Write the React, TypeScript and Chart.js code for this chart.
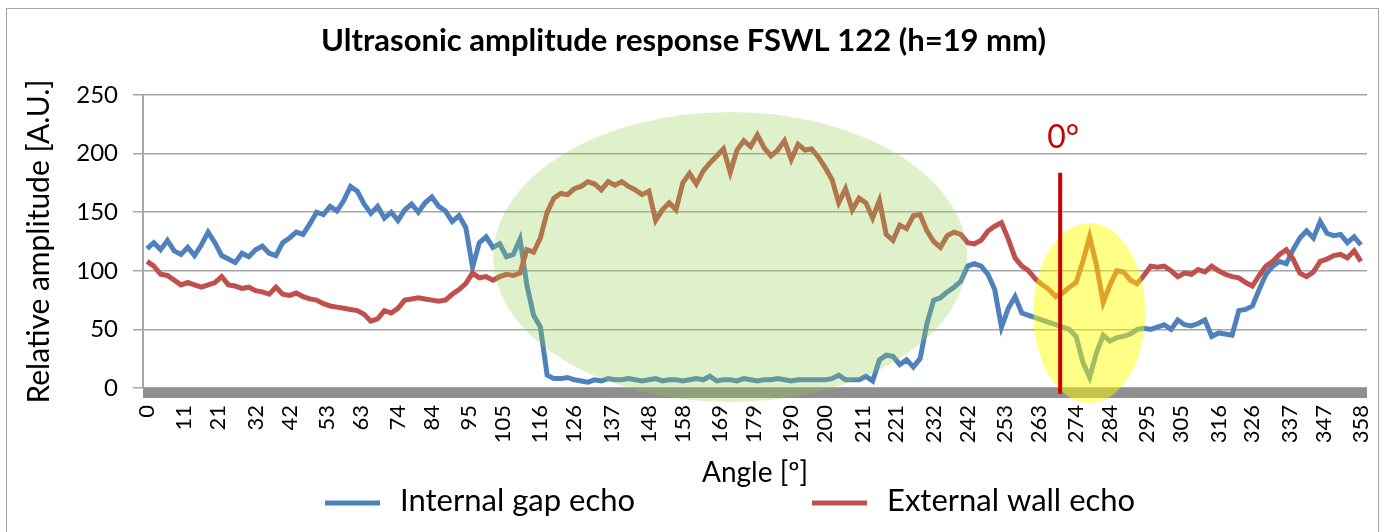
import React, { useEffect, useRef } from 'react';
import { Chart, registerables } from 'chart.js';

Chart.register(...registerables);

const TITLE = 'Ultrasonic amplitude response FSWL 122 (h=19 mm)';
const X_TITLE = 'Angle [º]';
const Y_TITLE = 'Relative amplitude [A.U.]';
const SERIES_NAMES = ['Internal gap echo', 'External wall echo'];

const ANGLES = [
  0, 2, 4, 6, 8, 10, 12, 14, 16, 18,
  20, 22, 24, 26, 28, 30, 32, 34, 36, 38,
  40, 42, 44, 46, 48, 50, 52, 54, 56, 58,
  60, 62, 64, 66, 68, 70, 72, 74, 76, 78,
  80, 82, 84, 86, 88, 90, 92, 94, 96, 98,
  100, 102, 104, 106, 108, 110, 112, 114, 116, 118,
  120, 122, 124, 126, 128, 130, 132, 134, 136, 138,
  140, 142, 144, 146, 148, 150, 152, 154, 156, 158,
  160, 162, 164, 166, 168, 170, 172, 174, 176, 178,
  180, 182, 184, 186, 188, 190, 192, 194, 196, 198,
  200, 202, 204, 206, 208, 210, 212, 214, 216, 218,
  220, 222, 224, 226, 228, 230, 232, 234, 236, 238,
  240, 242, 244, 246, 248, 250, 252, 254, 256, 258,
  260, 262, 264, 266, 268, 270, 272, 274, 276, 278,
  280, 282, 284, 286, 288, 290, 292, 294, 296, 298,
  300, 302, 304, 306, 308, 310, 312, 314, 316, 318,
  320, 322, 324, 326, 328, 330, 332, 334, 336, 338,
  340, 342, 344, 346, 348, 350, 352, 354, 356, 358,
];

const INTERNAL_GAP = [
  119, 124, 118, 126, 117, 114, 120, 113, 122, 133,
  124, 113, 110, 107, 115, 112, 118, 121, 115, 113,
  124, 128, 133, 131, 140, 150, 148, 155, 151, 160,
  172, 168, 157, 149, 155, 145, 150, 143, 152, 157,
  150, 158, 163, 155, 151, 142, 147, 137, 103, 124,
  129, 120, 123, 112, 114, 127, 88, 62, 52, 11,
  8, 8, 9, 7, 6, 5, 7, 6, 8, 7,
  7, 8, 7, 6, 7, 8, 6, 7, 7, 6,
  7, 8, 7, 10, 6, 7, 7, 6, 8, 7,
  6, 7, 7, 8, 7, 6, 7, 7, 7, 7,
  7, 8, 11, 7, 7, 7, 10, 6, 24, 28,
  27, 20, 24, 18, 25, 55, 75, 77, 82, 86,
  91, 104, 106, 104, 97, 84, 52, 68, 78, 64,
  62, 60, 58, 56, 54, 52, 50, 44, 22, 9,
  30, 45, 40, 43, 44, 46, 50, 51, 50, 52,
  54, 50, 58, 54, 53, 55, 58, 44, 47, 46,
  45, 66, 67, 70, 84, 97, 104, 108, 106, 118,
  128, 134, 128, 142, 132, 130, 131, 124, 129, 122,
];

const EXTERNAL_WALL = [
  108, 104, 97, 96, 92, 88, 90, 88, 86, 88,
  90, 95, 88, 87, 85, 86, 83, 82, 80, 86,
  80, 79, 81, 78, 76, 75, 72, 70, 69, 68,
  67, 66, 63, 57, 59, 66, 64, 68, 75, 76,
  77, 76, 75, 74, 75, 80, 84, 89, 98, 94,
  95, 92, 95, 97, 96, 98, 118, 116, 128, 150,
  162, 166, 165, 170, 172, 176, 174, 169, 176, 173,
  176, 172, 169, 165, 168, 143, 152, 158, 152, 175,
  183, 174, 185, 192, 198, 204, 184, 203, 211, 206,
  216, 205, 198, 203, 211, 195, 208, 203, 204, 197,
  188, 178, 158, 170, 152, 162, 158, 145, 160, 131,
  126, 139, 136, 147, 148, 134, 125, 120, 130, 133,
  131, 124, 123, 126, 134, 138, 141, 127, 111, 104,
  100, 93, 88, 84, 78, 81, 86, 90, 108, 129,
  105, 73, 88, 100, 99, 92, 89, 96, 104, 103,
  104, 100, 95, 98, 97, 101, 99, 104, 100, 97,
  95, 94, 90, 87, 96, 104, 108, 114, 118, 110,
  98, 95, 99, 108, 110, 113, 114, 111, 117, 108,
];

const X_TICKS = [
  0, 11, 21, 32, 42, 53, 63, 74, 84, 95, 105, 116, 126, 137, 148, 158, 169, 179,
  190, 200, 211, 221, 232, 242, 253, 263, 274, 284, 295, 305, 316, 326, 337, 347, 358,
];
const Y_MIN = 0;
const Y_MAX = 250;
const Y_STEP = 50;

// annotations (in data units)
const GREEN_ZONE = { angle: 172, amp: 111.8, rAngle: 69.9, rAmp: 123.7 };
const YELLOW_ZONE = { angle: 277.9, amp: 64, rAngle: 16.5, rAmp: 76.8 };
const ZERO_MARK = { angle: 269.3, from: -5, to: 183.7, labelAmp: 214, label: '0°' };

const FONT = 'Lato';
const BLUE = '#4f81bd';
const RED = '#c0504d';
const GRID = '#a6a6a6';

const overlayPlugin = {
  id: 'overlays',
  beforeDraw(chart: any) {
    const { ctx } = chart;
    ctx.save();
    ctx.fillStyle = '#ffffff';
    ctx.fillRect(0, 0, chart.width, chart.height);
    ctx.strokeStyle = '#a6a6a6';
    ctx.lineWidth = 1;
    ctx.strokeRect(6.5, 8.5, 1372, 600);
    ctx.restore();
  },
  beforeDatasetsDraw(chart: any) {
    const { ctx, chartArea, scales } = chart;
    const y0 = scales.y.getPixelForValue(0);
    ctx.save();
    ctx.fillStyle = '#8f8f8f';
    ctx.fillRect(chartArea.left, y0, chartArea.right - chartArea.left, 10);
    ctx.restore();
  },
  afterDatasetsDraw(chart: any) {
    const { ctx, scales } = chart;
    const x = scales.x;
    const y = scales.y;
    const drawZone = (z: any, color: string) => {
      const cx = x.getPixelForValue(z.angle);
      const cy = y.getPixelForValue(z.amp);
      const rx = x.getPixelForValue(z.angle + z.rAngle) - cx;
      const ry = cy - y.getPixelForValue(z.amp + z.rAmp);
      ctx.beginPath();
      ctx.ellipse(cx, cy, rx, ry, 0, 0, Math.PI * 2);
      ctx.fillStyle = color;
      ctx.fill();
    };
    ctx.save();
    drawZone(GREEN_ZONE, 'rgba(146, 208, 80, 0.3)');
    drawZone(YELLOW_ZONE, 'rgba(255, 255, 0, 0.48)');
    const lx = x.getPixelForValue(ZERO_MARK.angle);
    ctx.beginPath();
    ctx.moveTo(lx, y.getPixelForValue(ZERO_MARK.from));
    ctx.lineTo(lx, y.getPixelForValue(ZERO_MARK.to));
    ctx.strokeStyle = '#cc0000';
    ctx.lineWidth = 4;
    ctx.stroke();
    ctx.fillStyle = '#cc0000';
    ctx.font = `32px ${FONT}`;
    ctx.textAlign = 'center';
    ctx.textBaseline = 'middle';
    ctx.fillText(ZERO_MARK.label, lx + 3, y.getPixelForValue(ZERO_MARK.labelAmp));
    ctx.restore();
  },
  afterDraw(chart: any) {
    const { ctx } = chart;
    const starts = [325, 812];
    ctx.save();
    ctx.font = `31px ${FONT}`;
    ctx.textAlign = 'left';
    ctx.textBaseline = 'middle';
    chart.data.datasets.forEach((ds: any, i: number) => {
      const sx = starts[i];
      ctx.beginPath();
      ctx.moveTo(sx, 503);
      ctx.lineTo(sx + 55, 503);
      ctx.strokeStyle = ds.borderColor;
      ctx.lineWidth = 5;
      ctx.stroke();
      ctx.fillStyle = '#000';
      ctx.fillText(ds.label, sx + 75, 501);
    });
    ctx.restore();
  },
};

export default function App() {
  const ref = useRef<HTMLCanvasElement>(null);
  useEffect(() => {
    const canvas = ref.current;
    if (!canvas) return;
    const chart = new Chart(canvas, {
      type: 'line',
      data: {
        datasets: [
          {
            label: SERIES_NAMES[0],
            data: ANGLES.map((a, i) => ({ x: a, y: INTERNAL_GAP[i] })),
            borderColor: BLUE,
            backgroundColor: BLUE,
            borderWidth: 5,
            pointRadius: 0,
            tension: 0,
            order: 1,
          },
          {
            label: SERIES_NAMES[1],
            data: ANGLES.map((a, i) => ({ x: a, y: EXTERNAL_WALL[i] })),
            borderColor: RED,
            backgroundColor: RED,
            borderWidth: 5,
            pointRadius: 0,
            tension: 0,
            order: 0,
          },
        ],
      },
      options: {
        responsive: false,
        animation: false,
        devicePixelRatio: 1,
        layout: { padding: { left: 0, right: 23, top: 0, bottom: 0 } },
        plugins: {
          legend: { display: false },
          tooltip: { enabled: false },
          title: {
            display: true,
            text: TITLE,
            color: '#000',
            font: { family: FONT, size: 31, weight: 'bold' },
            padding: { top: 22.4, bottom: 35.4 },
          },
        },
        scales: {
          x: {
            type: 'linear',
            min: -1.2,
            max: 359.8,
            afterBuildTicks: (scale: any) => {
              scale.ticks = X_TICKS.map((v) => ({ value: v }));
            },
            afterFit: (scale: any) => {
              scale.height = 144;
              scale.paddingLeft = 0;
              scale.paddingRight = 0;
            },
            grid: { display: false, drawTicks: false },
            border: { display: false },
            ticks: {
              autoSkip: false,
              minRotation: 90,
              maxRotation: 90,
              padding: 17,
              color: '#000',
              font: { family: FONT, size: 22 },
              callback: (v: any) => String(v),
            },
            title: {
              display: true,
              text: X_TITLE,
              color: '#000',
              font: { family: FONT, size: 28 },
              padding: { top: 0, bottom: 42.2 },
            },
          },
          y: {
            min: Y_MIN,
            max: Y_MAX,
            afterFit: (scale: any) => {
              scale.width = 143;
            },
            ticks: {
              stepSize: Y_STEP,
              padding: 15,
              color: '#000',
              font: { family: FONT, size: 24 },
            },
            grid: { color: GRID, lineWidth: 1.5, tickLength: 10, drawTicks: true },
            border: { display: true, color: GRID, width: 2 },
            title: {
              display: true,
              text: Y_TITLE,
              color: '#000',
              font: { family: FONT, size: 30 },
              padding: { top: 21, bottom: 0 },
            },
          },
        },
      } as any,
      plugins: [overlayPlugin],
    });
    return () => chart.destroy();
  }, []);
  return (
    <div style={{ position: 'absolute', left: 0, top: 0, width: 1390, height: 532 }}>
      <canvas ref={ref} width={1390} height={532} style={{ display: 'block' }} />
    </div>
  );
}
